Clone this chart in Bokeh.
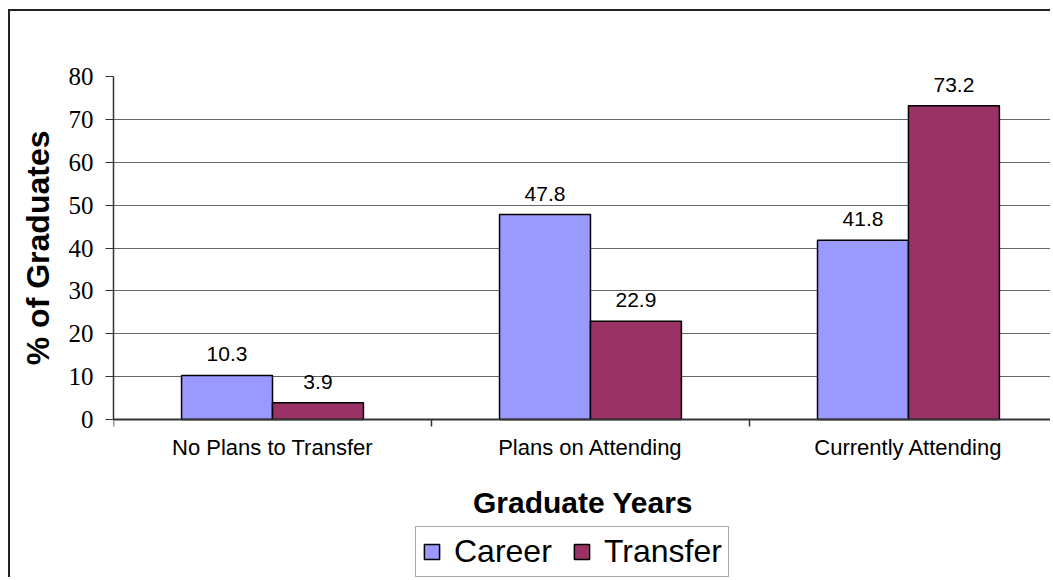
from bokeh.plotting import figure
from bokeh.models import ColumnDataSource, Range1d, FixedTicker, Legend, LegendItem, Title
from bokeh.transform import dodge
from bokeh.core.properties import value
from bokeh.embed import file_html
from bokeh.resources import INLINE

categories = ["No Plans to Transfer", "Plans on Attending", "Currently Attending"]
career = [10.3, 47.8, 41.8]
transfer = [3.9, 22.9, 73.2]
series_names = ["Career", "Transfer"]
y_ticks = [0, 10, 20, 30, 40, 50, 60, 70, 80]
x_title = "Graduate Years"
y_title = "% of Graduates"

x_pos = [i + 0.5 for i in range(len(categories))]
src = ColumnDataSource(dict(
    x=x_pos, career=career, transfer=transfer,
    career_lbl=[f"{v:.1f}" for v in career],
    transfer_lbl=[f"{v:.1f}" for v in transfer],
))

SANS = "Liberation Sans"
SERIF = "Liberation Serif"
BW = 0.286

# the frame reaches the bottom of the canvas; the space below y=0 holds
# the category axis (fixed at 0), its title and the legend
p = figure(width=1042, height=568, output_backend="svg", toolbar_location=None,
           x_range=Range1d(0, 2.953), y_range=Range1d(-37.3, 80),
           min_border_left=103, min_border_top=65, min_border_right=0,
           min_border_bottom=0)
p.styles = {"margin-left": "8px", "margin-top": "9px",
            "border-left": "2px solid #222", "border-top": "2px solid #222"}
p.outline_line_color = None
p.background_fill_color = "white"
p.border_fill_color = "white"

r1 = p.vbar(x=dodge('x', -BW / 2, range=p.x_range), top='career', width=BW, source=src,
            fill_color="#9999FF", line_color="black", line_width=1.5)
r2 = p.vbar(x=dodge('x', BW / 2, range=p.x_range), top='transfer', width=BW, source=src,
            fill_color="#993366", line_color="black", line_width=1.5)

for col, off in (("career", -BW / 2), ("transfer", BW / 2)):
    p.text(x=dodge('x', off, range=p.x_range), y=col, text=col + "_lbl", source=src,
           text_align="center", text_baseline="alphabetic", y_offset=-21,
           text_font=value(SANS), text_font_size="21px", text_color="black")

# y axis
ya = p.yaxis[0]
ya.ticker = FixedTicker(ticks=y_ticks)
ya.bounds = (y_ticks[0], y_ticks[-1])
ya.major_label_text_font = SERIF
ya.major_label_text_font_size = "25px"
ya.major_label_text_color = "black"
ya.major_tick_out = 8
ya.major_tick_in = 0
ya.minor_tick_line_color = None
ya.major_tick_line_color = "#333"
ya.axis_line_color = "#333"
ya.axis_line_width = 1.5
ya.major_label_standoff = 12

# y title, aligned with the 0..80 span of the axis
p.add_layout(Title(text=y_title, align="right", offset=54, vertical_align="top",
                   standoff=16, text_font=SANS, text_font_style="bold",
                   text_font_size="32px", text_color="black"), "left")

# x axis, drawn at y = 0
xa = p.xaxis[0]
xa.fixed_location = 0
xa.ticker = FixedTicker(ticks=x_pos, minor_ticks=list(range(len(categories) + 1)))
xa.major_label_overrides = {x: c for x, c in zip(x_pos, categories)}
xa.major_tick_line_color = None
xa.major_tick_out = 0
xa.major_tick_in = 0
xa.minor_tick_out = 7
xa.minor_tick_in = 0
xa.minor_tick_line_color = "#333"
xa.minor_tick_line_width = 1.5
xa.axis_line_color = "#333"
xa.axis_line_width = 2
xa.major_label_standoff = 8
xa.major_label_text_font = SANS
xa.major_label_text_font_size = "22px"
xa.major_label_text_color = "black"
xa.axis_label = x_title
xa.axis_label_text_font = SANS
xa.axis_label_text_font_style = "bold"
xa.axis_label_text_font_size = "30px"
xa.axis_label_text_color = "black"
xa.axis_label_standoff = 23

p.xgrid.visible = False
p.ygrid.ticker = FixedTicker(ticks=y_ticks)
p.ygrid.grid_line_color = "#666666"
p.ygrid.grid_line_width = 1

legend = Legend(items=[LegendItem(label=series_names[0], renderers=[r1]),
                       LegendItem(label=series_names[1], renderers=[r2])],
                location=(302, 2), orientation="horizontal",
                label_text_font=SANS, label_text_font_size="32px", label_text_color="black",
                glyph_width=19, glyph_height=19, label_standoff=13, spacing=18,
                label_width=100, padding=6, margin=0,
                border_line_color="#555", border_line_width=1.5,
                background_fill_color="white", background_fill_alpha=1.0)
p.add_layout(legend)

open("out.html", "w").write(file_html(p, INLINE))
